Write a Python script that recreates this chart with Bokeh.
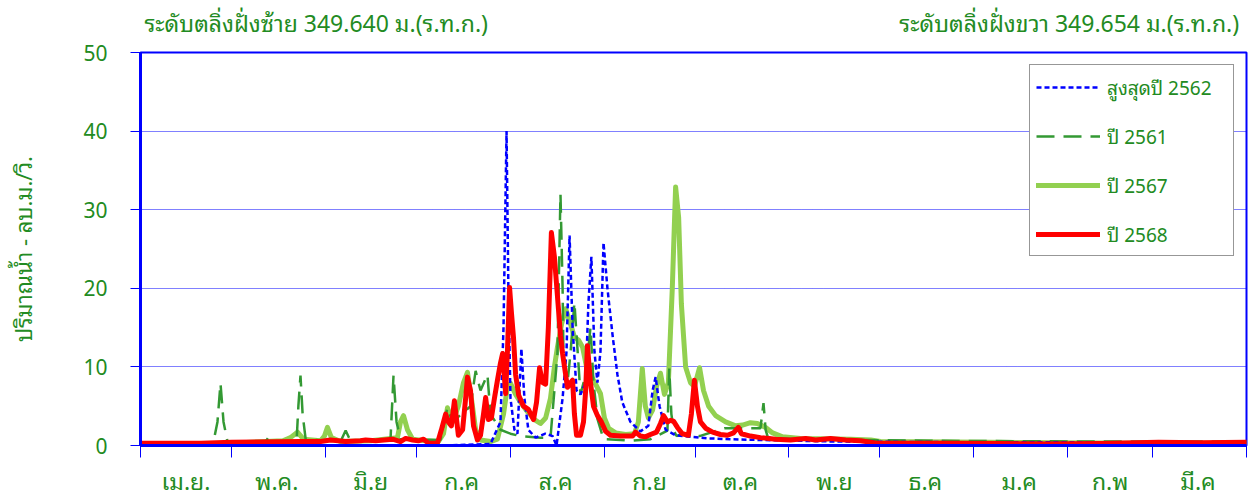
from bokeh.plotting import figure
from bokeh.models import Range1d, FixedTicker, Legend, LegendItem, LinearAxis
from bokeh.embed import file_html
from bokeh.resources import INLINE

# ---------------- data ----------------
month_labels = ["เม.ย.", "พ.ค.", "มิ.ย", "ก.ค", "ส.ค", "ก.ย", "ต.ค", "พ.ย", "ธ.ค", "ม.ค", "ก.พ", "มี.ค"]
month_days = [30, 31, 30, 31, 31, 30, 31, 30, 31, 31, 28, 31]
y_ticks = [0, 10, 20, 30, 40, 50]

title_left = "ระดับตลิ่งฝั่งซ้าย 349.640 ม.(ร.ท.ก.)"
title_right = "ระดับตลิ่งฝั่งขวา 349.654 ม.(ร.ท.ก.)"
y_label = "ปริมาณน้ำ - ลบ.ม./วิ."

# day index counted from 1 April
max2562_day = [0, 60, 100, 115.5, 118.8, 119.8, 120.8, 121.4, 122.1, 123.4, 124.4, 125.7, 126.7, 128, 130.4,
               133.6, 136, 137.3, 138.3, 139.3, 140.6, 141.6, 142.6, 143.9, 145.2, 146.9, 147.8, 148.8, 149.8,
               150.8, 151.8, 152.8, 154.1, 155.8, 157.4, 159, 161.7, 165, 167.6, 169, 170, 171.3, 173.3, 176.6,
               181.5, 188, 194.7, 204.6, 230, 280, 330, 365]
max2562_q = [0, 0, 0, 0.2, 3, 15, 40, 20, 6, 2, 1.5, 12.3, 6, 2, 1,
             1.5, 1.2, 0, 3, 6, 12, 26.7, 15, 7, 6.5, 8, 18, 24, 12,
             8, 12, 25.8, 20, 14, 9, 5.5, 3, 1.8, 2.5, 7, 8.7, 5, 2, 1.3,
             1.1, 0.9, 0.8, 0.7, 0.5, 0.4, 0.4, 0.4]

y2561_day = [0, 24, 25.4, 26.4, 27.4, 28.7, 31.4, 41.3, 42.2, 43.2, 51.5, 52.1, 52.8, 53.5, 54.5, 66, 67.7,
             69.3, 82.5, 83.5, 84.5, 85.8, 99, 101.3, 103, 108.9, 110.6, 112.2, 114.5, 115.5, 118.8, 122.1,
             125.4, 132, 135.3, 137.6, 138, 138.6, 139.3, 139.6, 141, 141.9, 143.2, 145.2, 146.9, 148.5,
             149.5, 150.8, 152.8, 158.4, 161.7, 168.3, 173.9, 174.5, 175.2, 176, 176.9, 178.8, 184.5,
             192.7, 200, 204.6, 205.6, 206.3, 207, 208.6, 220, 260, 320, 365]
y2561_q = [0.3, 0.3, 3, 7.9, 3, 0.5, 0.3, 0.5, 1, 0.5, 0.5, 5, 8.9, 4, 0.8, 0.5, 1.9,
           0.6, 0.7, 8.9, 3, 0.8, 0.7, 4.8, 3, 5, 9.5, 7, 9, 4, 2, 1.5,
           1.2, 1, 1, 11.7, 20, 32, 20, 11, 8.3, 11.7, 18.2, 6.5, 9, 15,
           8, 3.4, 0.8, 0.7, 0.6, 0.8, 1.9, 9.8, 4, 1.9, 1.2, 1.5, 1.2,
           2.2, 2.2, 2.2, 5.4, 2, 1.1, 0.9, 0.8, 0.6, 0.5, 0.5]

y2567_day = [0, 30, 47, 49.5, 51.8, 53.8, 59.4, 60.7, 61.7, 63, 66, 76, 84.8, 85.8, 86.8, 88.1, 89.8, 94,
             98.3, 100, 101.3, 103, 104.9, 106.6, 107.9, 109.2, 110.6, 112.2, 115.5, 117.8, 119.8, 121.1,
             122.1, 123.8, 125.4, 127.7, 130.4, 132, 133.7, 135.3, 136.6, 137.6, 139, 140.3, 141.9, 143.2,
             144.6, 145.9, 147.2, 148.5, 150.2, 151.8, 153.1, 154.5, 156.8, 160.1, 163, 164.3, 165.6, 166.6,
             167.6, 169, 170.3, 171.6, 172.9, 174.2, 175.5, 176.6, 177.6, 178.5, 179.9, 181.5, 182.8, 184.5,
             185.8, 187.5, 189.8, 193.1, 196.4, 198.7, 201.3, 203.6, 206.3, 208.6, 211.9, 217.8, 234.3, 241,
             244.2, 280, 330, 365]
y2567_q = [0.2, 0.3, 0.6, 1.0, 1.7, 0.8, 0.6, 1.2, 2.3, 1.0, 0.5, 0.6, 1.0, 3.0, 3.8, 2.0, 0.8, 0.6,
           0.5, 1.5, 4.8, 3, 5, 8, 9.3, 6, 2, 0.7, 0.5, 0.8, 4, 7.5,
           7.9, 6.5, 5.5, 4.3, 3.2, 2.8, 3.5, 6, 10, 12.5, 15.5, 17.4, 15.5, 13.8,
           13.4, 12.5, 10, 9, 7.8, 6.6, 3.5, 2.2, 1.6, 1.4, 1.5, 3, 9.8, 5,
           3.5, 4.5, 7.5, 9.2, 6.5, 8, 20, 32.9, 29, 18, 10, 8, 7.5, 9.9,
           7, 5, 3.8, 3.0, 2.5, 2.6, 2.9, 2.8, 2.3, 1.6, 1.1, 0.9, 0.8, 0.7,
           0.5, 0.4, 0.3, 0.3]

y2568_day = [0, 20, 30, 52.8, 59.4, 62.7, 67.7, 72.6, 74.3, 77.6, 83.2, 85.8, 87.5, 89.8, 91.7, 93.4, 95,
             96.7, 98, 99.3, 100.7, 101.6, 102.6, 103.6, 104.9, 106.3, 107.3, 107.9, 108.9, 109.9, 111.2,
             112.2, 113.2, 113.9, 114.8, 115.8, 116.8, 117.8, 118.8, 119.5, 120.5, 121.1, 121.8, 122.4,
             123.1, 123.8, 124.8, 126.4, 128, 129.7, 130.7, 131.7, 132.7, 133.7, 134.6, 135.6, 136.6, 137.6,
             138.6, 139.3, 140.3, 140.9, 141.9, 142.6, 143.2, 143.9, 145.2, 146.2, 146.9, 147.5, 148.5,
             149.5, 150.8, 152.1, 153.5, 155.1, 158.4, 162.4, 163.4, 165, 166.6, 168.3, 170.3, 171.6, 172.6,
             173.9, 174.9, 175.9, 177.2, 178.8, 180.8, 181.8, 182.8, 183.8, 184.8, 186.5, 188.8, 191.4,
             193.7, 195.7, 197.3, 198.3, 201.3, 204.6, 209.6, 214.5, 219.5, 222.8, 227.7, 232.7, 237.6,
             242.9, 250.8, 267, 284, 300, 317, 336, 350, 365]
y2568_q = [0.3, 0.3, 0.4, 0.5, 0.5, 0.7, 0.5, 0.6, 0.7, 0.6, 0.8, 0.5, 0.9, 0.7, 0.6, 0.8, 0.3,
           0.3, 0.3, 2, 4, 3, 2.5, 5.7, 1.3, 2, 6, 8.7, 7, 2.5, 0.7,
           1.3, 4, 6.1, 3.3, 3.5, 6, 8.3, 10.5, 11.7, 6.6, 12, 20.1, 17,
           13.7, 9, 6.4, 5, 4.6, 3.3, 5.5, 9.9, 8, 7.8, 15, 27.1, 24, 19,
           14, 11.7, 9, 7.4, 8, 8.3, 4, 1.3, 1.3, 3, 7, 12.7, 8,
           5, 3.8, 3.0, 1.8, 1.3, 1.2, 1.2, 1.7, 1.2, 1.1, 1.4, 1.7, 2.8, 3.8,
           3.0, 3.2, 3.1, 2.3, 1.5, 1.3, 4, 8.3, 5, 3.0, 2.2, 1.7, 1.4,
           1.3, 1.6, 2.3, 1.5, 1.2, 1.0, 0.8, 0.7, 0.9, 0.7, 0.9, 0.7, 0.6,
           0.3, 0.3, 0.3, 0.25, 0.2, 0.25, 0.4, 0.35, 0.4]

# ---------------- styling ----------------
FONT = "'Noto Sans', Waree, 'Noto Sans Thai Looped', Loma, sans-serif"
TXT = "#228B22"
BLUE = "#0000FF"

boundaries = [0]
for d in month_days:
    boundaries.append(boundaries[-1] + d)
centers = [boundaries[i] + month_days[i] // 2 for i in range(12)]

p = figure(width=1248, height=502, output_backend="svg", toolbar_location=None,
           x_range=Range1d(0, boundaries[-1]), y_range=Range1d(0, 50),
           min_border_left=140, min_border_right=2, min_border_top=52, min_border_bottom=57,
           background_fill_color="white", border_fill_color="white")

p.outline_line_color = BLUE
p.outline_line_width = 2

# x axis
p.xaxis.ticker = FixedTicker(ticks=centers, minor_ticks=boundaries)
p.xaxis.major_label_overrides = {c: lab for c, lab in zip(centers, month_labels)}
p.xaxis.major_tick_line_color = None
p.xaxis.minor_tick_line_color = BLUE
p.xaxis.minor_tick_out = 12
p.xaxis.minor_tick_in = 0
p.xaxis.axis_line_color = BLUE
p.xaxis.axis_line_width = 3
p.xaxis.major_label_text_color = TXT
p.xaxis.major_label_text_font = FONT
p.xaxis.major_label_text_font_size = "23px"
p.xaxis.major_label_standoff = 7

# titles shown on a text-only axis above the frame
top_axis = LinearAxis(ticker=FixedTicker(ticks=[58.0, 306.5]),
                      major_label_overrides={58.0: title_left, 306.5: title_right})
top_axis.axis_line_color = None
top_axis.major_tick_line_color = None
top_axis.minor_tick_line_color = None
top_axis.major_label_text_color = TXT
top_axis.major_label_text_font = FONT
top_axis.major_label_text_font_size = "23px"
top_axis.major_label_standoff = 8
p.add_layout(top_axis, "above")

# y axis
p.yaxis.ticker = FixedTicker(ticks=y_ticks)
p.yaxis.minor_tick_line_color = None
p.yaxis.major_tick_line_color = BLUE
p.yaxis.major_tick_out = 10
p.yaxis.major_tick_in = 0
p.yaxis.axis_line_color = BLUE
p.yaxis.axis_line_width = 3
p.yaxis.major_label_text_color = TXT
p.yaxis.major_label_text_font = FONT
p.yaxis.major_label_text_font_size = "21px"
p.yaxis.major_label_standoff = 23
p.yaxis.axis_label = y_label
p.yaxis.axis_label_text_color = TXT
p.yaxis.axis_label_text_font = FONT
p.yaxis.axis_label_text_font_size = "22px"
p.yaxis.axis_label_text_font_style = "normal"
p.yaxis.axis_label_standoff = 42

p.xgrid.grid_line_color = None
p.ygrid.grid_line_color = BLUE
p.ygrid.grid_line_dash = "1 1"
p.ygrid.grid_line_width = 1

# series
r67 = p.line(y2567_day, y2567_q, line_color="#92D050", line_width=5, line_join="round", line_cap="round")
r61 = p.line(y2561_day, y2561_q, line_color="#339933", line_width=2.5, line_dash="18 9")
r62 = p.line(max2562_day, max2562_q, line_color=BLUE, line_width=2.5, line_dash="5 3")
r68 = p.line(y2568_day, y2568_q, line_color="#FF0000", line_width=5, line_join="round", line_cap="round")

legend = Legend(items=[LegendItem(label="สูงสุดปี 2562", renderers=[r62]),
                       LegendItem(label="ปี 2561", renderers=[r61]),
                       LegendItem(label="ปี 2567", renderers=[r67]),
                       LegendItem(label="ปี 2568", renderers=[r68])],
                location="top_right", margin=12, padding=6,
                glyph_width=64, glyph_height=20, label_height=20, label_width=120,
                spacing=18, label_standoff=7,
                label_text_color=TXT, label_text_font=FONT, label_text_font_size="19px",
                border_line_color="#303030", border_line_width=1,
                background_fill_color="white", background_fill_alpha=1)
p.add_layout(legend)

open("out.html", "w").write(file_html(p, INLINE))
